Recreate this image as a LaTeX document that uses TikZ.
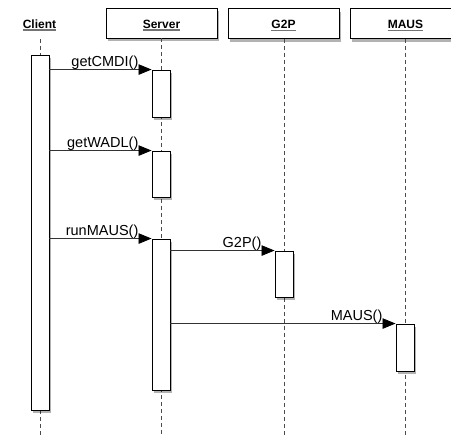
\documentclass[tikz,border=0pt]{standalone}
\usepackage{fontspec}
\setmainfont{Liberation Sans}
\usetikzlibrary{arrows.meta,shadows}
\begin{document}
\begin{tikzpicture}[x=1pt,y=-1pt,
  shd/.style={drop shadow={shadow xshift=1.5pt,shadow yshift=-3pt,opacity=0.3,fill=black}},
  hdrbox/.style={draw=black,line width=0.9pt,fill=white,shd,minimum width=111pt,minimum height=30pt,inner sep=0pt},
  hdrtxt/.style={inner sep=0pt,anchor=base,font=\fontsize{12}{14}\selectfont\bfseries},
  uline/.style={draw=black!55,line width=1.2pt},
  life/.style={draw=black!70,line width=0.9pt,dash pattern=on 4pt off 3pt},
  act/.style={draw=black,line width=0.9pt,fill=white,shd,minimum width=18pt,inner sep=0pt},
  msg/.style={draw=black!80,line width=0.8pt,-{Triangle[length=13pt,width=10.5pt,color=black,fill=black]}},
  lbl/.style={inner sep=0pt,anchor=base east,font=\fontsize{14.5}{16}\selectfont}
]
\useasboundingbox (0,0) rectangle (451,437);
% headers
\node[hdrbox] (server) at (161.5,23) {};
\node[hdrbox] (g2p) at (283.5,23.5) {};
\node[hdrbox] (maus) at (405.5,23.5) {};
\node[hdrtxt] (clientt) at (39.5,28) {Client};
\node[hdrtxt] (servert) at (161.5,28) {Server};
\node[hdrtxt] (g2pt) at (283.5,28.5) {G2P};
\node[hdrtxt] (maust) at (405.5,28.5) {MAUS};
\foreach \n in {clientt,servert,g2pt,maust}
  \draw[uline] ([yshift=-2pt]\n.base west) -- ([yshift=-2pt]\n.base east);
% lifelines
\coordinate (ctop) at (40,39);
\coordinate (cend) at (40,437);
\coordinate (send) at (161,437);
\coordinate (gend) at (284,437);
\coordinate (mend) at (405,437);
\draw[life] (ctop) -- (cend);
\draw[life] (server.south -| send) -- (send);
\draw[life] (g2p.south -| gend) -- (gend);
\draw[life] (maus.south -| mend) -- (mend);
% activations
\node[act,minimum height=355pt] (ca) at (40,232.5) {};
\node[act,minimum height=47pt] (sa1) at (161,93.5) {};
\node[act,minimum height=46pt] (sa2) at (161,174) {};
\node[act,minimum height=151pt] (sa3) at (161,314.5) {};
\node[act,minimum height=46pt] (ga) at (284,274) {};
\node[act,minimum height=47pt] (ma) at (405,347.5) {};
% messages
\draw[msg] (ca.east |- sa1.north west) -- (sa1.north west);
\draw[msg] (ca.east |- sa2.north west) -- (sa2.north west);
\draw[msg] (ca.east |- sa3.north west) -- (sa3.north west);
\draw[msg] (sa3.east |- ga.north west) -- (ga.north west);
\draw[msg] (sa3.east |- ma.north west) -- (ma.north west);
\node[lbl] (l1) at ([xshift=-13pt,yshift=3.5pt]sa1.north west) {getCMDI()};
\node[lbl] (l2) at ([xshift=-13pt,yshift=3.5pt]sa2.north west) {getWADL()};
\node[lbl] (l3) at ([xshift=-13pt,yshift=3.5pt]sa3.north west) {runMAUS()};
\node[lbl] (l4) at ([xshift=-13pt,yshift=3.5pt]ga.north west) {G2P()};
\node[lbl] (l5) at ([xshift=-13pt,yshift=3.5pt]ma.north west) {MAUS()};
\end{tikzpicture}
\end{document}
